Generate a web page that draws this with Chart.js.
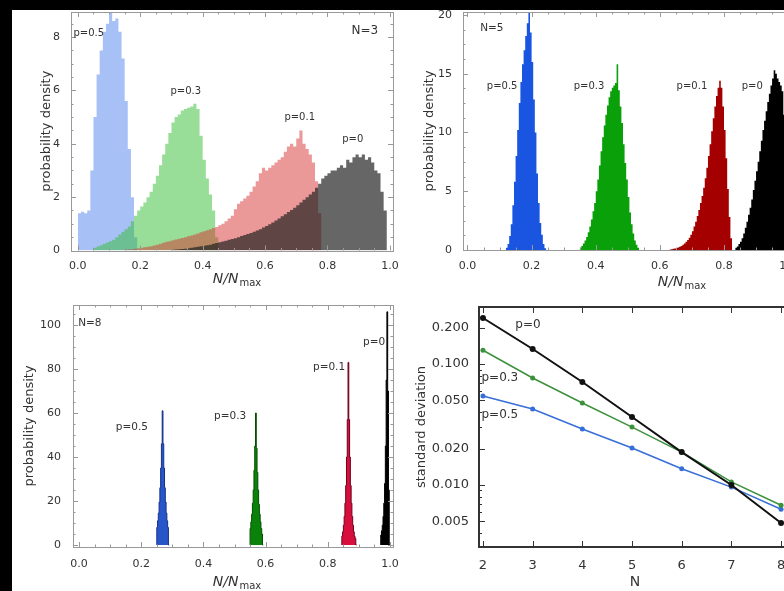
<!DOCTYPE html>
<html>
<head>
<meta charset="utf-8">
<script src="https://cdn.jsdelivr.net/npm/chart.js@4.4.1/dist/chart.umd.min.js"></script>
<style>
  html, body { margin: 0; padding: 0; }
  body { width: 784px; height: 591px; overflow: hidden; position: relative; background: #000; }
  #paper { position: absolute; left: 12px; top: 10px; width: 772px; height: 581px; background: #fff; }
  canvas { position: absolute; }
</style>
</head>
<body>
<div id="paper"></div>
<canvas id="n3" width="420" height="298" style="left:0;top:-8px"></canvas>
<canvas id="n5" width="410" height="298" style="left:400px;top:-8px"></canvas>
<canvas id="n8" width="420" height="311" style="left:0;top:280px"></canvas>
<canvas id="sd" width="410" height="311" style="left:400px;top:280px"></canvas>
<script>
// tick labels
const ratioTicks = [0, 0.2, 0.4, 0.6, 0.8, 1.0];
const n3Ticks = [0, 2, 4, 6, 8];
const n5Ticks = [0, 5, 10, 15, 20];
const n8Ticks = [0, 20, 40, 60, 80, 100];
const nValues = [2, 3, 4, 5, 6, 7, 8];
const sdTicks = [0.005, 0.01, 0.02, 0.05, 0.1, 0.2];

// N=3 histograms, bin width 0.01, heights
const n3Bin = 0.01;
const n3P05Start = 0.00;
const n3P05 = [1.4, 1.4, 1.45, 1.4, 1.5, 3.0, 5.0, 6.6, 7.5, 8.2, 8.5, 8.9, 8.6, 8.7, 8.2, 7.2, 5.6, 3.8, 2.0, 0.5];
const n3P03Start = 0.05;
const n3P03 = [0.05, 0.1, 0.15, 0.2, 0.25, 0.3, 0.35, 0.4, 0.5, 0.6, 0.7, 0.8, 0.9, 1.1, 1.3, 1.5, 1.65, 1.8, 2.0, 2.2,
               2.5, 2.8, 3.2, 3.6, 4.0, 4.4, 4.8, 5.0, 5.1, 5.25, 5.3, 5.35, 5.4, 5.5, 5.3, 4.3, 3.4, 2.7, 2.1, 1.5, 0.5];
const n3P01Start = 0.15;
const n3P01 = [0.02, 0.03, 0.04, 0.05, 0.07, 0.08, 0.1, 0.12, 0.14, 0.16, 0.19, 0.22, 0.25, 0.29, 0.33,
               0.35, 0.38, 0.41, 0.44, 0.47, 0.5, 0.53, 0.56, 0.6, 0.64, 0.68, 0.72, 0.76, 0.8, 0.84, 0.88,
               0.95, 1.0, 1.1, 1.2, 1.3, 1.55, 1.75, 1.85, 1.95, 2.05, 2.2, 2.4, 2.6,
               2.9, 3.1, 3.0, 3.1, 3.2, 3.3, 3.4, 3.5, 3.7, 3.9, 4.0, 3.9, 4.2, 4.5, 4.0, 3.8, 3.6, 3.3, 2.6, 1.4];
const n3P0Start = 0.30;
const n3P0 = [0.02, 0.03, 0.04, 0.05, 0.06, 0.07, 0.08, 0.1, 0.12, 0.14, 0.16, 0.18, 0.2, 0.22, 0.25, 0.28, 0.31, 0.34, 0.37, 0.4,
              0.43, 0.46, 0.5, 0.54, 0.58, 0.62, 0.66, 0.7, 0.75, 0.8, 0.86, 0.92, 0.98, 1.05, 1.12, 1.2, 1.28, 1.36, 1.44, 1.52,
              1.6, 1.7, 1.8, 1.9, 2.0, 2.1, 2.2, 2.35, 2.5, 2.7,
              2.8, 2.9, 3.0, 3.0, 3.1, 3.2, 3.1, 3.4, 3.3, 3.5, 3.6, 3.5, 3.6, 3.4, 3.5, 3.3, 3.0, 2.9, 2.2, 1.5];

// N=5 histograms, bin width 0.005
const n5Bin = 0.005;
const n5P05Start = 0.120;
const n5P05 = [0.1, 0.2, 0.5, 1.2, 2.2, 3.8, 5.8, 8.0, 10.2, 12.5, 14.3, 15.8, 17.0, 18.2, 19.3, 20.2,
               18.5, 16.0, 12.8, 10.0, 6.5, 4.0, 2.3, 1.3, 0.5, 0.15];
const n5P03Start = 0.350;
const n5P03 = [0.1, 0.2, 0.35, 0.55, 0.8, 1.1, 1.5, 2.0, 2.6, 3.3, 4.0, 5.0, 6.0, 7.2, 8.4, 9.6, 10.6, 11.5, 12.3, 13.0,
               13.5, 13.8, 14.0, 14.2, 15.8, 13.6, 12.2, 10.8, 9.0, 7.4, 6.0, 4.5, 3.2, 2.2, 1.4, 0.8, 0.45, 0.2];
const n5P01Start = 0.630;
const n5P01 = [0.03, 0.05, 0.07, 0.1, 0.13, 0.17, 0.22, 0.28, 0.35, 0.45, 0.55, 0.7, 0.85, 1.05, 1.3, 1.6, 2.0, 2.4, 2.9, 3.4,
               4.0, 4.6, 5.3, 6.1, 7.0, 8.0, 9.0, 10.1, 11.2, 12.2, 13.1, 13.8, 14.4, 13.8, 12.2, 10.2, 7.8, 5.2, 2.8, 1.0];
const n5P0Start = 0.835;
const n5P0 = [0.1, 0.2, 0.3, 0.5, 0.7, 1.0, 1.4, 1.9, 2.4, 3.0, 3.6, 4.3, 5.1, 5.9, 6.7, 7.5, 8.4, 9.3, 10.2, 11.0,
              11.8, 12.6, 13.3, 14.0, 14.6, 15.3, 15.0, 14.6, 14.3, 14.0, 13.5, 11.5, 7.0];

// N=8 histograms, bin width 0.0025
const n8Bin = 0.0025;
const n8P05Start = 0.2500;
const n8P05 = [6, 8, 11, 14.5, 19.5, 26, 35, 46, 61, 46, 35, 26, 19.5, 14.5, 11, 8];
const n8P03Start = 0.5500;
const n8P03 = [5.5, 7.5, 10.5, 14, 19, 25, 34, 45, 60, 44, 33, 25, 18.5, 14, 10.5, 7.5, 5];
const n8P01Start = 0.8450;
const n8P01 = [3, 4, 6, 9, 13, 19, 27, 40, 57, 83, 57, 40, 27, 19, 13, 9, 6, 4, 3];
const n8P0Start = 0.9700;
const n8P0 = [3, 4.5, 6.5, 9, 13, 19, 28, 45, 75, 106, 70, 25];

// standard deviation versus N
const sdP0 = [0.240, 0.133, 0.071, 0.0365, 0.0187, 0.0100, 0.00485];
const sdP03 = [0.130, 0.0766, 0.0476, 0.0301, 0.0187, 0.0106, 0.0068];
const sdP05 = [0.0544, 0.0425, 0.029, 0.0202, 0.0136, 0.0096, 0.0063];

Chart.defaults.font.family = '"DejaVu Sans", sans-serif';
Chart.defaults.color = '#333';

function histogram(start, bin, heights) {
    const pts = [{x: start, y: 0}];
    heights.forEach((h, i) => pts.push({x: start + i * bin, y: h}));
    pts.push({x: start + heights.length * bin, y: 0});
    return pts;
}

function histSet(label, start, bin, heights, fill, edge) {
    return {
        label: label,
        data: histogram(start, bin, heights),
        stepped: 'after',
        fill: 'origin',
        backgroundColor: fill,
        borderColor: edge || 'transparent',
        borderWidth: edge ? 1 : 0,
        pointRadius: 0
    };
}

function minorBetween(major, parts) {
    const out = [];
    for (let i = 0; i < major.length - 1; i++) {
        const step = (major[i + 1] - major[i]) / parts;
        for (let k = 1; k < parts; k++) out.push(major[i] + k * step);
    }
    return out;
}

// Mathematica style frame with ticks on the inside of all four sides
function framePlugin(f) {
    return {
        id: 'frame',
        afterDatasetsDraw(chart) {
            const {ctx, chartArea: a} = chart;
            const x = chart.scales.x, y = chart.scales.y;
            ctx.save();
            ctx.strokeStyle = f.color;
            ctx.lineWidth = 1;
            ctx.beginPath();
            const xMarks = (vals, len) => vals.forEach(v => {
                const px = Math.round(x.getPixelForValue(v)) + 0.5;
                if (px < a.left || px > a.right) return;
                ctx.moveTo(px, a.bottom); ctx.lineTo(px, a.bottom - len);
                ctx.moveTo(px, a.top); ctx.lineTo(px, a.top + len);
            });
            const yMarks = (vals, len) => vals.forEach(v => {
                const py = Math.round(y.getPixelForValue(v)) + 0.5;
                if (py < a.top || py > a.bottom) return;
                ctx.moveTo(a.left, py); ctx.lineTo(a.left + len, py);
                ctx.moveTo(a.right, py); ctx.lineTo(a.right - len, py);
            });
            xMarks(f.xMajor, f.major); xMarks(f.xMinor, f.minor);
            yMarks(f.yMajor, f.major); yMarks(f.yMinor, f.minor);
            ctx.stroke();
            ctx.lineWidth = f.width;
            const o = f.width % 2 ? 0.5 : 0;
            ctx.strokeRect(Math.round(a.left) + o, Math.round(a.top) + o,
                           Math.round(a.right - a.left), Math.round(a.bottom - a.top));
            ctx.restore();
        }
    };
}

// peak labels in data coordinates and the x axis name
function notesPlugin(items, size, axisName) {
    return {
        id: 'notes',
        afterDraw(chart) {
            const {ctx, chartArea: a} = chart;
            const x = chart.scales.x, y = chart.scales.y;
            ctx.save();
            ctx.fillStyle = '#333';
            ctx.textAlign = 'center';
            ctx.textBaseline = 'middle';
            items.forEach(it => {
                ctx.font = (it.size || size) + 'px "DejaVu Sans"';
                ctx.fillText(it.text, x.getPixelForValue(it.x), y.getPixelForValue(it.y));
            });
            const n = axisName;
            const cx = x.getPixelForValue(n.at);
            const base = a.bottom + n.offset;
            ctx.textAlign = 'left';
            ctx.textBaseline = 'alphabetic';
            const mainFont = (n.italic ? 'italic ' : '') + n.size + 'px "DejaVu Sans"';
            const subFont = n.subSize + 'px "DejaVu Sans"';
            ctx.font = mainFont;
            const w1 = ctx.measureText(n.main).width;
            let w2 = 0;
            if (n.sub) { ctx.font = subFont; w2 = ctx.measureText(n.sub).width + 1; }
            const left = cx - (w1 + w2) / 2;
            ctx.font = mainFont;
            ctx.fillText(n.main, left, base);
            if (n.sub) { ctx.font = subFont; ctx.fillText(n.sub, left + w1 + 1, base + 3); }
            ctx.restore();
        }
    };
}

function histChart(id, c) {
    return new Chart(document.getElementById(id), {
        type: 'line',
        data: {datasets: c.datasets},
        options: {
            responsive: false,
            animation: false,
            events: [],
            layout: {padding: c.padding},
            plugins: {legend: {display: false}, tooltip: {enabled: false}},
            scales: {
                x: {
                    type: 'linear', min: c.xMin, max: c.xMax,
                    grid: {display: false}, border: {display: false},
                    afterBuildTicks: s => { s.ticks = ratioTicks.map(v => ({value: v})); },
                    afterFit: s => { s.height = c.xHeight; },
                    ticks: {padding: c.xPad, font: {size: 11}, autoSkip: false, maxRotation: 0,
                            callback: v => v.toFixed(1)}
                },
                y: {
                    type: 'linear', min: c.yMin, max: c.yMax,
                    grid: {display: false}, border: {display: false},
                    afterBuildTicks: s => { s.ticks = c.yTicks.map(v => ({value: v})); },
                    afterFit: s => { s.width = c.yWidth; },
                    ticks: {padding: c.yPad, font: {size: 11}, callback: v => String(v)},
                    title: {display: true, text: 'probability density', font: {size: 13}, padding: {top: 1, bottom: 0}}
                }
            }
        },
        plugins: [
            framePlugin({color: '#999', width: 1, major: 5, minor: 2.5,
                         xMajor: ratioTicks, xMinor: minorBetween(ratioTicks, 4),
                         yMajor: c.yTicks, yMinor: minorBetween(c.yTicks.concat([c.yTicks[c.yTicks.length - 1] * 2 - c.yTicks[c.yTicks.length - 2]]), 4)}),
            notesPlugin(c.notes, 10, {main: 'N/N', sub: 'max', italic: true, size: 14, subSize: 10, at: c.titleAt, offset: c.titleOffset})
        ]
    });
}

histChart('n3', {
    datasets: [
        histSet('p=0', n3P0Start, n3Bin, n3P0, 'rgba(30,30,30,0.68)'),
        histSet('p=0.1', n3P01Start, n3Bin, n3P01, 'rgba(215,50,50,0.5)'),
        histSet('p=0.3', n3P03Start, n3Bin, n3P03, 'rgba(50,190,50,0.5)'),
        histSet('p=0.5', n3P05Start, n3Bin, n3P05, 'rgba(80,130,235,0.5)')
    ],
    padding: {left: 38, top: 20, right: 27, bottom: 0},
    yWidth: 33, xHeight: 39.5, xPad: 1, yPad: 3,
    xMin: -0.022, xMax: 1.01, yMin: 0, yMax: 8.94, yTicks: n3Ticks,
    titleAt: 0.51, titleOffset: 32.5,
    notes: [
        {x: 0.035, y: 8.15, text: 'p=0.5'},
        {x: 0.346, y: 5.95, text: 'p=0.3'},
        {x: 0.711, y: 5.0, text: 'p=0.1'},
        {x: 0.881, y: 4.15, text: 'p=0'},
        {x: 0.92, y: 8.25, text: 'N=3', size: 12}
    ]
});

histChart('n5', {
    datasets: [
        histSet('p=0', n5P0Start, n5Bin, n5P0, '#000'),
        histSet('p=0.1', n5P01Start, n5Bin, n5P01, 'rgb(165,0,0)'),
        histSet('p=0.3', n5P03Start, n5Bin, n5P03, 'rgb(10,160,10)'),
        histSet('p=0.5', n5P05Start, n5Bin, n5P05, 'rgb(25,85,225)')
    ],
    padding: {left: 21, top: 20, right: 19, bottom: 0},
    yWidth: 42, xHeight: 40, xPad: 1.5, yPad: 3,
    xMin: -0.014, xMax: 1.009, yMin: 0, yMax: 20.25, yTicks: n5Ticks,
    titleAt: 0.669, titleOffset: 36,
    notes: [
        {x: 0.108, y: 13.9, text: 'p=0.5'},
        {x: 0.379, y: 13.9, text: 'p=0.3'},
        {x: 0.70, y: 13.9, text: 'p=0.1'},
        {x: 0.888, y: 13.9, text: 'p=0'},
        {x: 0.076, y: 18.9, text: 'N=5', size: 10.5}
    ]
});

histChart('n8', {
    datasets: [
        histSet('p=0', n8P0Start, n8Bin, n8P0, '#000', '#000'),
        histSet('p=0.1', n8P01Start, n8Bin, n8P01, 'rgb(215,15,60)', 'rgb(110,0,30)'),
        histSet('p=0.3', n8P03Start, n8Bin, n8P03, 'rgb(10,130,10)', 'rgb(0,80,0)'),
        histSet('p=0.5', n8P05Start, n8Bin, n8P05, 'rgb(40,85,200)', 'rgb(20,50,140)')
    ],
    padding: {left: 21, top: 25, right: 27, bottom: 0},
    yWidth: 52, xHeight: 44, xPad: 3, yPad: 4,
    xMin: -0.0193, xMax: 1.0096, yMin: -0.91, yMax: 109.1, yTicks: n8Ticks,
    titleAt: 0.508, titleOffset: 39,
    notes: [
        {x: 0.17, y: 53.6, text: 'p=0.5', size: 10.5},
        {x: 0.486, y: 58.6, text: 'p=0.3', size: 10.5},
        {x: 0.804, y: 80.9, text: 'p=0.1', size: 10.5},
        {x: 0.949, y: 92.3, text: 'p=0', size: 10.5},
        {x: 0.035, y: 100.9, text: 'N=8', size: 10.5}
    ]
});

function sdSet(label, values, color, radius, width) {
    return {
        label: label,
        data: nValues.map((n, i) => ({x: n, y: values[i]})),
        borderColor: color,
        backgroundColor: color,
        borderWidth: width,
        pointRadius: radius,
        pointBorderWidth: 0,
        fill: false
    };
}

new Chart(document.getElementById('sd'), {
    type: 'line',
    data: {
        datasets: [
            sdSet('p=0', sdP0, '#111', 3, 2),
            sdSet('p=0.3', sdP03, 'rgb(60,145,60)', 2.5, 1.5),
            sdSet('p=0.5', sdP05, 'rgb(55,110,215)', 2.5, 1.5)
        ]
    },
    options: {
        responsive: false,
        animation: false,
        events: [],
        layout: {padding: {left: 13, top: 27, right: 20, bottom: 0}},
        plugins: {legend: {display: false}, tooltip: {enabled: false}},
        scales: {
            x: {
                type: 'linear', min: 1.92, max: 8.18,
                grid: {display: false}, border: {display: false},
                afterBuildTicks: s => { s.ticks = nValues.map(v => ({value: v})); },
                afterFit: s => { s.height = 44; },
                ticks: {padding: 3, font: {size: 13}, autoSkip: false, maxRotation: 0, callback: v => String(v)}
            },
            y: {
                type: 'logarithmic', min: 0.00307, max: 0.296, bounds: 'data',
                grid: {display: false}, border: {display: false},
                afterBuildTicks: s => { s.ticks = sdTicks.map(v => ({value: v})); },
                afterFit: s => { s.width = 66; },
                ticks: {padding: 2, font: {size: 13}, callback: v => Number(v).toFixed(3)},
                title: {display: true, text: 'standard deviation', font: {size: 13}, padding: {top: 1, bottom: 0}}
            }
        }
    },
    plugins: [
        framePlugin({color: '#333', width: 2, major: 6, minor: 3,
                     xMajor: nValues, xMinor: [],
                     yMajor: sdTicks, yMinor: [0.004, 0.006, 0.007, 0.008, 0.009, 0.03, 0.04, 0.06, 0.07, 0.08, 0.09]}),
        notesPlugin([
            {x: 2.906, y: 0.21, text: 'p=0'},
            {x: 2.34, y: 0.0766, text: 'p=0.3'},
            {x: 2.34, y: 0.038, text: 'p=0.5'}
        ], 12, {main: 'N', italic: false, size: 14, at: 5.06, offset: 39})
    ]
});
</script>
</body>
</html>
